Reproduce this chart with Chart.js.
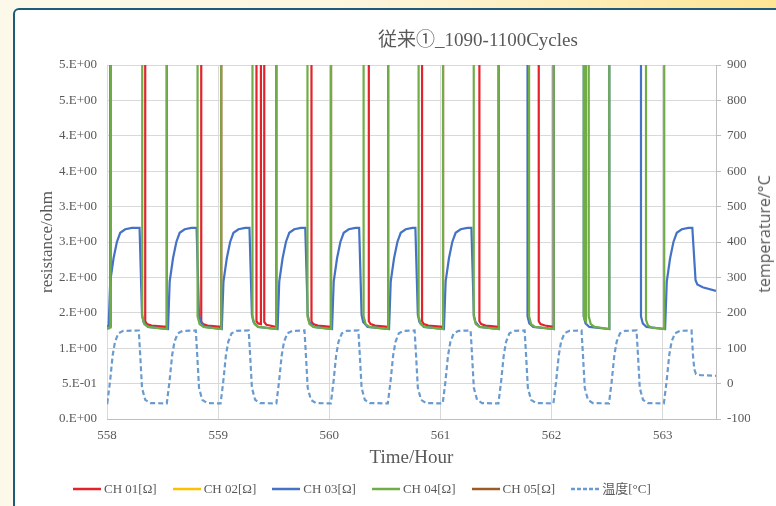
<!DOCTYPE html>
<html>
<head>
<meta charset="utf-8">
<script src="https://cdn.jsdelivr.net/npm/chart.js@4.4.1/dist/chart.umd.min.js"></script>
<style>
  body { margin: 0; }
  #wrap {
    position: relative; width: 776px; height: 506px; overflow: hidden;
    background: linear-gradient(to right, #fdf9ea 0%, #fdf6df 45%, #fdeebb 72%, #fde594 100%);
  }
  #panel {
    position: absolute; left: 13px; top: 8px; width: 820px; height: 540px;
    border: 2px solid #1d5b7b; border-radius: 6px; background: #fff;
  }
  #chart { position: absolute; left: 0; top: 0; }
  #title {
    position: absolute; left: 0; width: 956px; top: 28px; text-align: center;
    font: 19px/24px "Liberation Serif", "Noto Sans CJK JP", serif; color: #595959;
  }
  #y2title {
    position: absolute; left: 764px; top: 234px; white-space: nowrap;
    transform: translate(-50%, -50%) rotate(-90deg);
    font: 16px "Open Sans", "Liberation Sans", sans-serif; color: #595959;
  }
  #legend {
    position: absolute; left: 73px; top: 480px; display: flex; gap: 16px;
    font: 13px/18px "Liberation Serif", "Noto Sans CJK JP", serif; color: #595959;
  }
  #legend span { display: flex; align-items: center; gap: 3px; white-space: nowrap; }
</style>
</head>
<body>
<div id="wrap">
  <div id="panel"></div>
  <canvas id="chart" width="776" height="506"></canvas>
  <div id="title">従来①_1090-1100Cycles</div>
  <div id="y2title">temperature/°C</div>
  <div id="legend"></div>
</div>
<script>
// time [hour], resistance [ohm]; 10 = open circuit (off the top of the axis)
const ch01 = [
  [558.000,1.31],[558.030,1.31],[558.030,10],[558.344,10],[558.344,1.38],[558.360,1.34],[558.400,1.32],[558.538,1.30],[558.538,10],
  [558.848,10],[558.848,1.38],[558.864,1.34],[558.904,1.32],[559.028,1.30],[559.028,10],
  [559.345,10],[559.345,1.38],[559.360,1.35],[559.385,1.34],[559.385,10],[559.415,10],[559.415,1.37],[559.435,1.33],[559.524,1.30],[559.524,10],
  [559.840,10],[559.840,1.38],[559.856,1.34],[559.896,1.32],[560.016,1.30],[560.016,10],
  [560.356,10],[560.356,1.38],[560.372,1.34],[560.412,1.32],[560.530,1.30],[560.530,10],
  [560.835,10],[560.835,1.38],[560.851,1.34],[560.891,1.32],[561.024,1.30],[561.024,10],
  [561.351,10],[561.351,1.38],[561.367,1.34],[561.407,1.32],[561.525,1.30],[561.525,10],
  [561.885,10],[561.885,1.38],[561.901,1.34],[561.941,1.32],[562.020,1.30],[562.020,10],
  [563.480,10]
];
const ch02 = [[558.000,1.30],[558.030,1.30],[558.030,10],[563.480,10]];
const ch03 = [
  [558.000,1.28],[558.014,1.28],[558.029,1.94],[558.059,2.27],[558.089,2.50],[558.119,2.63],[558.164,2.68],[558.224,2.70],[558.293,2.70],[558.315,1.47],[558.329,1.37],[558.369,1.30],
  [558.549,1.27],[558.564,1.94],[558.594,2.27],[558.624,2.50],[558.654,2.63],[558.699,2.68],[558.759,2.70],[558.806,2.70],[558.828,1.47],[558.842,1.37],[558.882,1.30],
  [559.033,1.27],[559.048,1.94],[559.078,2.27],[559.108,2.50],[559.138,2.63],[559.183,2.68],[559.243,2.70],[559.282,2.70],[559.304,1.47],[559.318,1.37],[559.358,1.30],
  [559.535,1.27],[559.550,1.94],[559.580,2.27],[559.610,2.50],[559.640,2.63],[559.685,2.68],[559.745,2.70],[559.784,2.70],[559.806,1.47],[559.820,1.37],[559.860,1.30],
  [560.025,1.27],[560.040,1.94],[560.070,2.27],[560.100,2.50],[560.130,2.63],[560.175,2.68],[560.235,2.70],[560.269,2.70],[560.291,1.47],[560.305,1.37],[560.345,1.30],
  [560.538,1.27],[560.553,1.94],[560.583,2.27],[560.613,2.50],[560.643,2.63],[560.688,2.68],[560.748,2.70],[560.775,2.70],[560.797,1.47],[560.811,1.37],[560.851,1.30],
  [561.032,1.27],[561.047,1.94],[561.077,2.27],[561.107,2.50],[561.137,2.63],[561.182,2.68],[561.242,2.70],[561.279,2.70],[561.301,1.47],[561.315,1.37],[561.355,1.30],
  [561.525,1.27],[561.525,10],[561.784,10],[561.784,1.45],[561.800,1.35],[561.835,1.30],[562.020,1.27],[562.020,10],
  [562.290,10],[562.290,1.45],[562.306,1.35],[562.340,1.30],[562.520,1.27],[562.520,10],
  [562.805,10],[562.805,1.45],[562.821,1.35],[562.855,1.30],
  [563.022,1.27],[563.037,1.94],[563.067,2.27],[563.097,2.50],[563.127,2.63],[563.172,2.68],[563.232,2.70],[563.267,2.70],[563.296,1.96],[563.312,1.90],[563.360,1.86],[563.480,1.81]
];
const ch04 = [
  [558.000,1.29],[558.030,1.29],[558.030,10],
  [558.317,10],[558.317,1.45],[558.335,1.34],[558.370,1.30],[558.538,1.27],[558.538,10],
  [558.815,10],[558.815,1.45],[558.833,1.34],[558.868,1.30],[559.028,1.27],[559.028,10],
  [559.309,10],[559.309,1.45],[559.327,1.34],[559.362,1.30],[559.524,1.27],[559.524,10],
  [559.804,10],[559.804,1.45],[559.822,1.34],[559.857,1.30],[560.016,1.27],[560.016,10],
  [560.309,10],[560.309,1.45],[560.327,1.34],[560.362,1.30],[560.530,1.27],[560.530,10],
  [560.804,10],[560.804,1.45],[560.822,1.34],[560.857,1.30],[561.024,1.27],[561.024,10],
  [561.300,10],[561.300,1.45],[561.318,1.34],[561.353,1.30],[561.525,1.27],[561.525,10],
  [561.798,10],[561.798,1.45],[561.816,1.34],[561.851,1.30],[562.020,1.27],[562.020,10],
  [562.290,10],[562.290,1.45],[562.300,1.40],[562.310,1.38],[562.310,10],
  [562.335,10],[562.335,1.45],[562.353,1.34],[562.388,1.30],[562.520,1.27],[562.520,10],
  [562.850,10],[562.850,1.40],[562.868,1.32],[562.900,1.29],[563.014,1.27],[563.014,10],
  [563.480,10]
];
const ch05 = [[558.000,1.30],[558.030,1.30],[558.030,10],[563.480,10]];
// time [hour], temperature [°C]
const temp = [
  [558.000,-55],[558.003,-55],[558.027,5],[558.051,80],[558.072,118],[558.102,142],[558.147,149],[558.286,150],[558.299,80],[558.315,-12],[558.344,-46],[558.389,-55],
  [558.538,-56],[558.562,5],[558.586,80],[558.607,118],[558.637,142],[558.682,149],[558.799,150],[558.812,80],[558.828,-12],[558.857,-46],[558.902,-55],
  [559.022,-56],[559.046,5],[559.070,80],[559.091,118],[559.121,142],[559.166,149],[559.275,150],[559.288,80],[559.304,-12],[559.333,-46],[559.378,-55],
  [559.524,-56],[559.548,5],[559.572,80],[559.593,118],[559.623,142],[559.668,149],[559.777,150],[559.790,80],[559.806,-12],[559.835,-46],[559.880,-55],
  [560.014,-56],[560.038,5],[560.062,80],[560.083,118],[560.113,142],[560.158,149],[560.262,150],[560.275,80],[560.291,-12],[560.320,-46],[560.365,-55],
  [560.527,-56],[560.551,5],[560.575,80],[560.596,118],[560.626,142],[560.671,149],[560.768,150],[560.781,80],[560.797,-12],[560.826,-46],[560.871,-55],
  [561.021,-56],[561.045,5],[561.069,80],[561.090,118],[561.120,142],[561.165,149],[561.272,150],[561.285,80],[561.301,-12],[561.330,-46],[561.375,-55],
  [561.522,-56],[561.546,5],[561.570,80],[561.591,118],[561.621,142],[561.666,149],[561.758,150],[561.771,80],[561.787,-12],[561.816,-46],[561.861,-55],
  [562.017,-56],[562.041,5],[562.065,80],[562.086,118],[562.116,142],[562.161,149],[562.270,150],[562.283,80],[562.299,-12],[562.328,-46],[562.373,-55],
  [562.517,-56],[562.541,5],[562.565,80],[562.586,118],[562.616,142],[562.661,149],[562.765,150],[562.778,80],[562.794,-12],[562.823,-46],[562.868,-55],
  [563.011,-56],[563.035,5],[563.059,80],[563.080,118],[563.110,142],[563.155,149],[563.260,150],[563.273,80],[563.285,40],[563.300,27],[563.340,24],[563.480,22]
];

const hourTicks = [558, 559, 560, 561, 562, 563];
const ohmTicks = [0, 0.5, 1, 1.5, 2, 2.5, 3, 3.5, 4, 4.5, 5];
const ohmTickLabels = ["0.E+00", "5.E-01", "1.E+00", "2.E+00", "2.E+00", "3.E+00", "3.E+00", "4.E+00", "4.E+00", "5.E+00", "5.E+00"];
const tempTicks = [-100, 0, 100, 200, 300, 400, 500, 600, 700, 800, 900];

const serif = "'Liberation Serif', 'Noto Sans CJK JP', serif";
const textColor = "#595959";
const tickFont = { family: serif, size: 13 };

const series = [
  { label: "CH 01[Ω]", data: ch01, color: "#e3232c", order: 2 },
  { label: "CH 02[Ω]", data: ch02, color: "#ffc000", order: 4 },
  { label: "CH 03[Ω]", data: ch03, color: "#4472c4", order: 1 },
  { label: "CH 04[Ω]", data: ch04, color: "#70ad47", order: 0 },
  { label: "CH 05[Ω]", data: ch05, color: "#9e5a24", order: 3 },
  { label: "温度[°C]", data: temp, color: "#6a9bd0", order: 5, dash: [5, 3], axis: "y2" },
];

// html legend, same look as the excel one
const legend = document.getElementById("legend");
series.forEach((s) => {
  const item = document.createElement("span");
  const dash = s.dash ? ' stroke-dasharray="4 2"' : "";
  item.innerHTML =
    '<svg width="28" height="10"><line x1="0" y1="5" x2="28" y2="5" stroke="' + s.color +
    '" stroke-width="2.5"' + dash + "/></svg>" + s.label;
  legend.appendChild(item);
});

const ctx = document.getElementById("chart").getContext("2d");

new Chart(ctx, {
  type: "line",
  data: {
    datasets: series.map((s) => ({
      label: s.label,
      data: s.data.map(([x, y]) => ({ x, y })),
      borderColor: s.color,
      backgroundColor: s.color,
      borderWidth: 2.2,
      borderDash: s.dash || [],
      yAxisID: s.axis || "y",
      order: s.order,
      pointRadius: 0,
      tension: 0,
      fill: false,
    })),
  },
  options: {
    responsive: false,
    animation: false,
    layout: { padding: { left: 30, right: 26, top: 65, bottom: 29 } },
    plugins: {
      legend: { display: false },
      title: { display: false },
      tooltip: { enabled: false },
    },
    scales: {
      x: {
        type: "linear",
        min: 558,
        max: 563.48,
        afterBuildTicks: (s) => { s.ticks = hourTicks.map((v) => ({ value: v })); },
        afterFit: (s) => { s.height = 58; },
        ticks: { font: tickFont, color: textColor, padding: 9, autoSkip: false, maxRotation: 0, callback: (v) => String(v) },
        grid: { color: "#d9d9d9", drawTicks: false },
        border: { color: "#bfbfbf" },
        title: { display: true, text: "Time/Hour", color: textColor, font: { family: serif, size: 19 }, padding: { top: 0, bottom: 8 } },
      },
      y: {
        position: "left",
        min: 0,
        max: 5,
        afterBuildTicks: (s) => { s.ticks = ohmTicks.map((v) => ({ value: v })); },
        afterFit: (s) => { s.width = 77; },
        ticks: { font: tickFont, color: textColor, padding: 10, autoSkip: false, callback: (v, i) => ohmTickLabels[i] },
        grid: { color: "#d9d9d9", drawTicks: false },
        border: { display: false },
        title: { display: true, text: "resistance/ohm", color: textColor, font: { family: serif, size: 17 }, padding: { top: 7, bottom: 0 } },
      },
      y2: {
        position: "right",
        min: -100,
        max: 900,
        afterBuildTicks: (s) => { s.ticks = tempTicks.map((v) => ({ value: v })); },
        afterFit: (s) => { s.width = 34; },
        ticks: { font: tickFont, color: textColor, padding: 6, autoSkip: false, callback: (v) => String(v) },
        grid: { drawOnChartArea: false, drawTicks: true, tickLength: 5, color: "#bfbfbf" },
        border: { display: true, color: "#bfbfbf" },
      },
    },
  },
});
</script>
</body>
</html>
